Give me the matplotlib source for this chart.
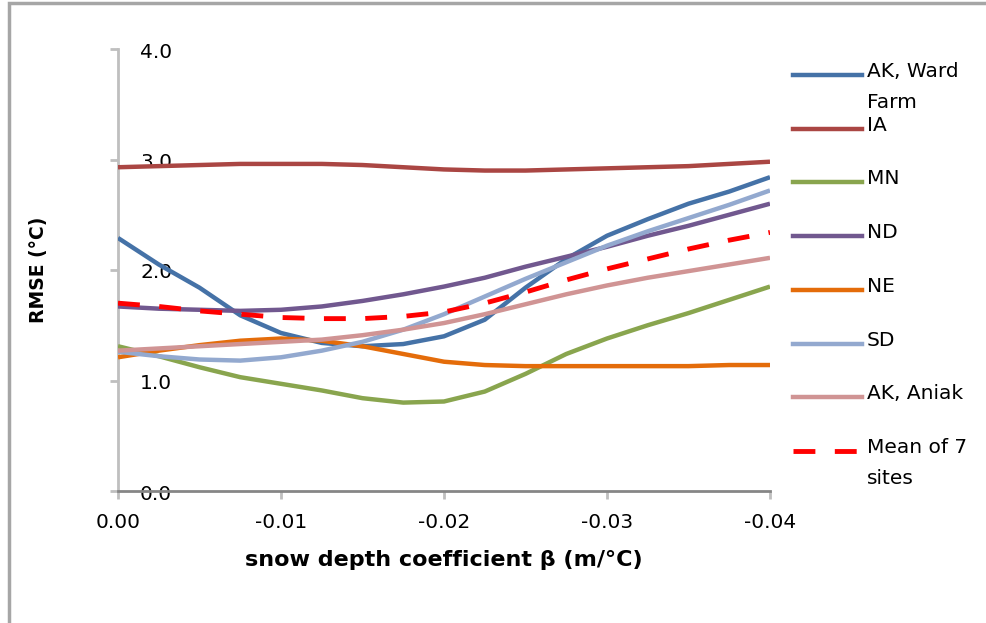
import numpy as np
import matplotlib
matplotlib.use("Agg")
import matplotlib.pyplot as plt
import matplotlib.transforms as mtransforms
from matplotlib.lines import Line2D
from matplotlib.patches import Rectangle

beta = [0.0, -0.0025, -0.005, -0.0075, -0.01, -0.0125, -0.015, -0.0175, -0.02,
        -0.0225, -0.025, -0.0275, -0.03, -0.0325, -0.035, -0.0375, -0.04]

# RMSE (degC) per site
ak_ward = [2.29, 2.05, 1.84, 1.59, 1.43, 1.34, 1.31, 1.33, 1.40,
           1.55, 1.84, 2.10, 2.31, 2.46, 2.60, 2.71, 2.84]
ia = [2.93, 2.94, 2.95, 2.96, 2.96, 2.96, 2.95, 2.93, 2.91,
      2.90, 2.90, 2.91, 2.92, 2.93, 2.94, 2.96, 2.98]
mn = [1.31, 1.22, 1.12, 1.03, 0.97, 0.91, 0.84, 0.80, 0.81,
      0.90, 1.06, 1.24, 1.38, 1.50, 1.61, 1.73, 1.85]
nd = [1.67, 1.65, 1.64, 1.63, 1.64, 1.67, 1.72, 1.78, 1.85,
      1.93, 2.03, 2.12, 2.21, 2.31, 2.40, 2.50, 2.60]
ne = [1.21, 1.27, 1.32, 1.36, 1.38, 1.36, 1.31, 1.24, 1.17,
      1.14, 1.13, 1.13, 1.13, 1.13, 1.13, 1.14, 1.14]
sd = [1.26, 1.22, 1.19, 1.18, 1.21, 1.27, 1.35, 1.46, 1.60,
      1.76, 1.92, 2.07, 2.22, 2.35, 2.47, 2.59, 2.72]
ak_aniak = [1.27, 1.29, 1.31, 1.33, 1.35, 1.37, 1.41, 1.46, 1.52,
            1.60, 1.69, 1.78, 1.86, 1.93, 1.99, 2.05, 2.11]
mean7 = [1.70, 1.67, 1.63, 1.60, 1.57, 1.56, 1.56, 1.58, 1.62,
         1.70, 1.80, 1.91, 2.01, 2.10, 2.19, 2.27, 2.34]

labels = ["AK, Ward\nFarm", "IA", "MN", "ND", "NE", "SD", "AK, Aniak", "Mean of 7\nsites"]
colors = ["#4572A7", "#AA4643", "#89A54E", "#71588F", "#E46C0A", "#93A9CF", "#D09494", "#FF0000"]
series = [ak_ward, ia, mn, nd, ne, sd, ak_aniak, mean7]

x_ticks = [0.0, -0.01, -0.02, -0.03, -0.04]
x_ticklabels = ["0.00", "-0.01", "-0.02", "-0.03", "-0.04"]
y_ticks = [0.0, 1.0, 2.0, 3.0, 4.0]

W, H = 987, 623
fig = plt.figure(figsize=(W / 100, H / 100), dpi=100)
ax = fig.add_axes([118 / W, 1 - 491 / H, (770 - 118) / W, (491 - 49) / H])

# outer frame of the original chart (left and top edges visible)
fig.add_artist(Rectangle((9 / W, -0.1), 1.2, 1.1 - 3 / H, transform=fig.transFigure,
                         fill=False, edgecolor="#A6A6A6", linewidth=2.5))

for vals, col, lab in zip(series, colors, labels):
    if lab.startswith("Mean"):
        ax.plot(beta, vals, color=col, linewidth=3.5, dashes=(4.5, 4), zorder=4)
    else:
        ax.plot(beta, vals, color=col, linewidth=3.2, solid_joinstyle="round",
                solid_capstyle="butt", zorder=3)

ax.set_xlim(0.0, -0.04)
ax.set_ylim(0.0, 4.0)
ax.set_xticks(x_ticks)
ax.set_xticklabels(x_ticklabels)
ax.set_yticks(y_ticks)
ax.set_yticklabels(["%.1f" % v for v in y_ticks])

for s in ["top", "right"]:
    ax.spines[s].set_visible(False)
ax.spines["left"].set_color("#BFBFBF")
ax.spines["left"].set_linewidth(2)
ax.spines["bottom"].set_color("#868686")
ax.spines["bottom"].set_linewidth(2)

ax.tick_params(axis="x", direction="out", length=6, width=2, color="#BFBFBF",
               labelsize=14.5, pad=10)
# y tick labels sit inside the plot area, like the original
ax.tick_params(axis="y", direction="out", length=6, width=2, color="#BFBFBF",
               labelsize=14.5, pad=-45)
shift = mtransforms.ScaledTranslation(0, -3 / 100, fig.dpi_scale_trans)
for t in ax.get_yticklabels():
    t.set_verticalalignment("center")
    t.set_transform(t.get_transform() + shift)

ax.set_xlabel("snow depth coefficient β (m/°C)", fontsize=16, fontweight="bold", labelpad=13)
ax.set_ylabel("RMSE (°C)", fontsize=13.5, fontweight="bold")
ax.yaxis.set_label_coords(-0.108, 0.5)

# legend drawn like Excel: line marker at first text line, wrapped labels below
y0 = 1 - 75 / H
dy = 53.7 / H
for i, (col, lab) in enumerate(zip(colors, labels)):
    yy = y0 - i * dy
    if lab.startswith("Mean"):
        fig.add_artist(Line2D([793 / W, 862 / W], [yy, yy], color=col, linewidth=3.5,
                              dashes=(4.5, 4), transform=fig.transFigure))
    else:
        fig.add_artist(Line2D([793 / W, 862 / W], [yy, yy], color=col, linewidth=3.2,
                              transform=fig.transFigure))
    fig.text(867 / W, yy + 13 / H, lab, fontsize=14.5, va="top", ha="left",
             linespacing=1.8)

fig.savefig("out.png", dpi=100)
